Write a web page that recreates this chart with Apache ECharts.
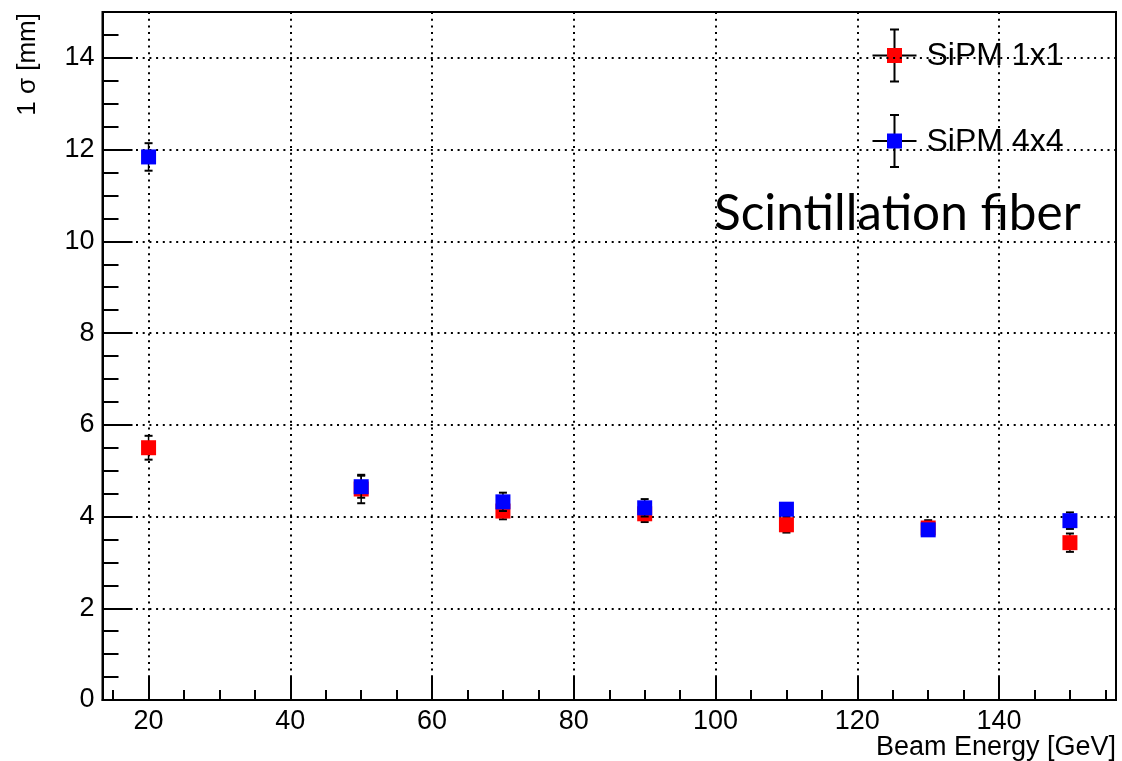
<!DOCTYPE html>
<html>
<head>
<meta charset="utf-8">
<title>Position resolution vs beam energy</title>
<script src="https://cdn.jsdelivr.net/npm/echarts@6/dist/echarts.min.js"></script>
<style>
  html, body { margin: 0; padding: 0; background: #ffffff; }
  #chart { width: 1122px; height: 761px; }
</style>
</head>
<body>
<div id="chart"></div>
<script>
// Measured 1-sigma width of the beam profile for two SiPM readouts
const energies = [20, 50, 70, 90, 110, 130, 150];
const sigma1x1 = [5.50, 4.60, 4.12, 4.06, 3.82, 3.75, 3.43];
const err1x1   = [0.26, 0.31, 0.18, 0.18, 0.17, 0.17, 0.20];
const sigma4x4 = [11.84, 4.65, 4.32, 4.19, 4.16, 3.71, 3.91];
const err4x4   = [0.30, 0.24, 0.20, 0.19, 0.12, 0.10, 0.18];

const seriesNames  = ['SiPM 1x1', 'SiPM 4x4'];
const seriesColors = ['#ff0000', '#0000ff'];

// Axis ranges and tick positions
const xRange = [13.5, 156.5];
const yRange = [0, 15];
const xTickLabels  = [20, 40, 60, 80, 100, 120, 140];
const xMinorTicks  = [15, 20, 25, 30, 35, 40, 45, 50, 55, 60, 65, 70, 75, 80, 85, 90, 95,
                      100, 105, 110, 115, 120, 125, 130, 135, 140, 145, 150, 155];
const yTickLabels  = [0, 2, 4, 6, 8, 10, 12, 14];

const xTitle = 'Beam Energy [GeV]';
const yTitle = '1 σ [mm]';
const annotation = 'Scintillation fiber';

const FONT = 'Liberation Sans, Arial, Helvetica, sans-serif';
const gridLine = { show: true, lineStyle: { color: '#000', width: 2, type: [2, 4.7] } };

function errorBars(values, errors, z) {
  return {
    type: 'custom',
    xAxisIndex: 0,
    yAxisIndex: 0,
    z: z,
    silent: true,
    data: energies.map((x, i) => [x, values[i] - errors[i], values[i] + errors[i]]),
    encode: { x: 0, y: [1, 2] },
    renderItem(params, api) {
      const lo = api.coord([api.value(0), api.value(1)]);
      const hi = api.coord([api.value(0), api.value(2)]);
      const hw = 4;
      return {
        type: 'group',
        children: [
          { type: 'line', shape: { x1: lo[0], y1: lo[1], x2: hi[0], y2: hi[1] },
            style: { stroke: '#000', lineWidth: 1.5 } },
          { type: 'line', shape: { x1: lo[0] - hw, y1: lo[1], x2: lo[0] + hw, y2: lo[1] },
            style: { stroke: '#000', lineWidth: 2 } },
          { type: 'line', shape: { x1: hi[0] - hw, y1: hi[1], x2: hi[0] + hw, y2: hi[1] },
            style: { stroke: '#000', lineWidth: 2 } }
        ]
      };
    }
  };
}

function markers(name, values, color, z) {
  return {
    name: name,
    type: 'scatter',
    xAxisIndex: 0,
    yAxisIndex: 0,
    z: z,
    symbol: 'rect',
    symbolSize: 15,
    itemStyle: { color: color, opacity: 1 },
    emphasis: { disabled: true },
    data: energies.map((x, i) => [x, values[i]])
  };
}

// Legend entry: marker with horizontal/vertical error-bar cross
function legendEntry(cx, cy, color, label) {
  const hw = 4.5;
  return {
    type: 'group',
    children: [
      { type: 'line', shape: { x1: cx - 22, y1: cy, x2: cx + 22, y2: cy }, style: { stroke: '#000', lineWidth: 2 } },
      { type: 'line', shape: { x1: cx, y1: cy - 26, x2: cx, y2: cy + 26 }, style: { stroke: '#000', lineWidth: 2 } },
      { type: 'line', shape: { x1: cx - hw, y1: cy - 26, x2: cx + hw, y2: cy - 26 }, style: { stroke: '#000', lineWidth: 2 } },
      { type: 'line', shape: { x1: cx - hw, y1: cy + 26, x2: cx + hw, y2: cy + 26 }, style: { stroke: '#000', lineWidth: 2 } },
      { type: 'rect', shape: { x: cx - 7.5, y: cy - 7.5, width: 15, height: 15 }, style: { fill: color } },
      { type: 'text', x: cx + 32, y: cy + 1,
        style: { text: label, font: '32px ' + FONT, fill: '#000', textAlign: 'left', textVerticalAlign: 'middle' } }
    ]
  };
}

const chart = echarts.init(document.getElementById('chart'), null, { renderer: 'canvas' });

chart.setOption({
  animation: false,
  backgroundColor: '#ffffff',
  grid: {
    left: 102.5, right: 6, top: 12, bottom: 61,
    show: true, borderColor: '#000', borderWidth: 2,
    containLabel: false, outerBoundsMode: 'none'
  },
  xAxis: [
    {
      type: 'value', min: xRange[0], max: xRange[1], position: 'bottom',
      axisLine: { show: true, onZero: false, lineStyle: { color: '#000', width: 2 } },
      axisTick: { show: true, inside: true, length: 23, customValues: xTickLabels,
                  lineStyle: { color: '#000', width: 2 } },
      axisLabel: { show: true, customValues: xTickLabels, margin: 8,
                   fontFamily: FONT, fontSize: 27, color: '#000' },
      splitLine: gridLine
    },
    {
      type: 'value', min: xRange[0], max: xRange[1], position: 'bottom',
      axisLine: { show: false },
      axisTick: { show: true, inside: true, length: 10, customValues: xMinorTicks,
                  lineStyle: { color: '#000', width: 2 } },
      axisLabel: { show: false },
      splitLine: { show: false }
    }
  ],
  yAxis: [
    {
      type: 'value', min: yRange[0], max: yRange[1], position: 'left',
      axisLine: { show: true, onZero: false, lineStyle: { color: '#000', width: 2 } },
      axisTick: { show: true, inside: true, length: 30, customValues: yTickLabels,
                  lineStyle: { color: '#000', width: 2 } },
      axisLabel: { show: true, customValues: yTickLabels, margin: 8,
                   fontFamily: FONT, fontSize: 27, color: '#000' },
      splitLine: gridLine
    },
    {
      type: 'value', min: yRange[0], max: yRange[1], interval: 0.5, position: 'left',
      axisLine: { show: false },
      axisTick: { show: true, inside: true, length: 16, lineStyle: { color: '#000', width: 2 } },
      axisLabel: { show: false },
      splitLine: { show: false }
    }
  ],
  series: [
    errorBars(sigma1x1, err1x1, 10),
    markers(seriesNames[0], sigma1x1, seriesColors[0], 11),
    errorBars(sigma4x4, err4x4, 12),
    markers(seriesNames[1], sigma4x4, seriesColors[1], 13)
  ],
  graphic: [
    legendEntry(894.5, 55.5, seriesColors[0], seriesNames[0]),
    legendEntry(894.5, 141, seriesColors[1], seriesNames[1]),
    { type: 'text', x: 714, y: 214, z: 20,
      style: { text: annotation, font: '49.5px Lato, "Open Sans", sans-serif', fill: '#000',
               textAlign: 'left', textVerticalAlign: 'middle' } },
    { type: 'text', x: 1116, y: 748, z: 20,
      style: { text: xTitle, font: '27px ' + FONT, fill: '#000',
               textAlign: 'right', textVerticalAlign: 'middle' } },
    { type: 'text', x: 28, y: 13, rotation: Math.PI / 2, z: 20,
      style: { text: yTitle, font: '26px ' + FONT, fill: '#000',
               textAlign: 'right', textVerticalAlign: 'middle' } }
  ]
});
</script>
</body>
</html>
